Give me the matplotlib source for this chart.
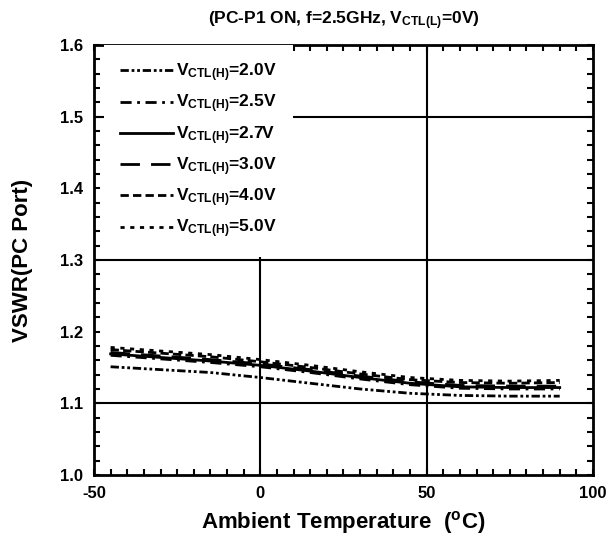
import matplotlib.pyplot as plt
from matplotlib.ticker import MultipleLocator, FormatStrFormatter

plt.rcParams['font.family'] = 'Liberation Sans'
plt.rcParams['font.weight'] = 'bold'
plt.rcParams['axes.unicode_minus'] = False
plt.rcParams['mathtext.fontset'] = 'custom'
plt.rcParams['mathtext.rm'] = 'Liberation Sans:bold'
plt.rcParams['mathtext.it'] = 'Liberation Sans:bold'
plt.rcParams['mathtext.bf'] = 'Liberation Sans:bold'

temps = [-45, -30, -15, 0, 15, 30, 45, 60, 75, 90]
vswr_20 = [1.151, 1.147, 1.143, 1.136, 1.128, 1.120, 1.114, 1.111, 1.110, 1.110]
vswr_25 = [1.167, 1.162, 1.157, 1.151, 1.143, 1.134, 1.126, 1.121, 1.120, 1.120]
vswr_27 = [1.169, 1.164, 1.159, 1.153, 1.145, 1.136, 1.128, 1.123, 1.122, 1.122]
vswr_30 = [1.171, 1.166, 1.161, 1.155, 1.147, 1.138, 1.130, 1.125, 1.124, 1.124]
vswr_40 = [1.175, 1.170, 1.165, 1.158, 1.150, 1.141, 1.133, 1.129, 1.128, 1.129]
vswr_50 = [1.178, 1.173, 1.168, 1.161, 1.153, 1.144, 1.136, 1.132, 1.131, 1.132]
labels = ['2.0V', '2.5V', '2.7V', '3.0V', '4.0V', '5.0V']

series = [vswr_20, vswr_25, vswr_27, vswr_30, vswr_40, vswr_50]
styles = [(0, (3, 1, 1, 1, 1, 1)), (0, (4, 2, 1, 2)), '-', (0, (7, 4)),
          (0, (3, 1.5)), (0, (1.5, 2))]

fig = plt.figure(figsize=(6.11, 5.37), dpi=100)
ax = fig.add_axes([0.1538, 0.1155, 0.8167, 0.8007])

# grid lines only at some values
for y in [1.1, 1.3, 1.5]:
    ax.axhline(y, color='black', lw=1.5, zorder=1)
for x in [0, 50]:
    ax.axvline(x, color='black', lw=1.5, zorder=1)

for vals, ls, lab in zip(series, styles, labels):
    ax.plot(temps, vals, color='black', lw=2, linestyle=ls, zorder=3,
            label='V$_{\\rm CTL(H)}$=' + lab)

ax.set_xlim(-50, 100)
ax.set_ylim(1.0, 1.6)
ax.xaxis.set_major_locator(MultipleLocator(50))
ax.xaxis.set_minor_locator(MultipleLocator(5))
ax.yaxis.set_major_locator(MultipleLocator(0.1))
ax.yaxis.set_minor_locator(MultipleLocator(0.02))
ax.yaxis.set_major_formatter(FormatStrFormatter('%.1f'))
ax.tick_params(which='both', direction='in', top=True, right=True,
               length=4, width=1.5, labelsize=12, pad=8)
for s in ax.spines.values():
    s.set_linewidth(2)

ax.set_xlabel('Ambient Temperature  ($^{\\rm o}$C)', fontsize=16, fontweight='bold', labelpad=6)
ax.set_ylabel('VSWR(PC Port)', fontsize=16, fontweight='bold', labelpad=19)
ax.set_title('(PC-P1 ON, f=2.5GHz, V$_{\\rm CTL(L)}$=0V)', fontsize=12.5,
             fontweight='bold', pad=15)

leg = ax.legend(loc='upper left', bbox_to_anchor=(0.02, 1.0), borderaxespad=0,
                fontsize=12.5, handlelength=3.0, labelspacing=0.5,
                frameon=True, fancybox=False, framealpha=1,
                edgecolor='none', facecolor='white', borderpad=0.95,
                handletextpad=0.2)
leg.set_zorder(5)

fig.savefig('out.png', dpi=100)
